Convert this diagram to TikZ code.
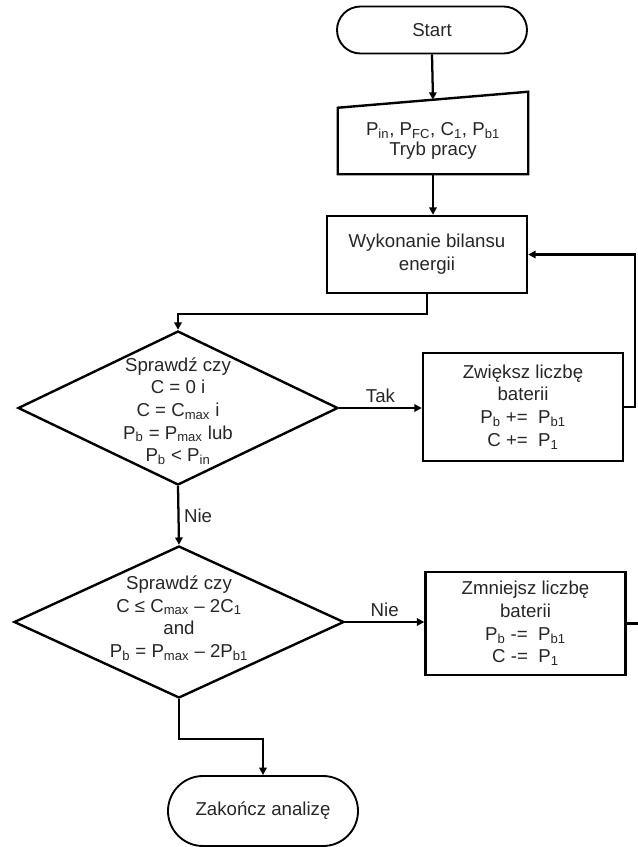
\documentclass[tikz,border=0pt]{standalone}
\usepackage{fontspec}
\setmainfont{Liberation Sans}
\usetikzlibrary{arrows.meta,positioning,calc,shapes.geometric,shapes.misc}

\newcommand{\sub}[1]{\textsubscript{#1}}

\begin{document}
\begin{tikzpicture}[x=0.75pt, y=-0.75pt,
    every node/.style={font=\fontsize{14}{17}\selectfont, text=black!85},
    term/.style={draw=black, line width=1.4pt, rounded rectangle, minimum width=142.5pt, inner sep=0pt},
    proc/.style={draw=black, line width=1.8pt, rectangle, minimum width=150pt, align=center, inner sep=0pt},
    decis/.style={draw=black, line width=1.8pt, diamond, inner sep=0pt},
    flow/.style={line width=1.7pt, -{Triangle[length=5.5pt,width=5.5pt]}},
    link/.style={line width=1.7pt}]
    \useasboundingbox (0,0) rectangle (638,847);

    % Start and data
    \node[term, minimum height=35.25pt] (start) at (432,30) {Start};
    \node[align=center, minimum width=142.5pt, minimum height=49.5pt, inner sep=0pt,
          font=\fontsize{14}{14.5}\selectfont] (inp) at (433,141)
        {P\sub{in}, P\sub{FC}, C\sub{1}, P\sub{b1}\\Tryb pracy};
    \coordinate (inpNE) at ($(inp.north east)+(0,-16)$);
    \coordinate (inpTop) at ($(inp.north west)!0.5!(inpNE)$);
    \draw[line width=1.8pt] (inp.south west) -- (inp.south east) -- (inpNE) -- (inp.north west) -- cycle;

    % Energy balance
    \node[proc, minimum height=57.75pt] (proc) at (427,254.5) {Wykonanie bilansu\\energii};

    % First check
    \node[decis, minimum width=240pt, minimum height=115.5pt] (d1) at (178,408) {};
    \node[align=center] (d1txt) at (178,411)
        {Sprawdź czy\\C = 0 i\\C = C\sub{max} i\\P\sub{b} = P\sub{max} lub\\P\sub{b} < P\sub{in}};
    \node[proc, minimum height=81pt] (box1) at (523,407)
        {Zwiększ liczbę\\baterii\\P\sub{b} +=\ \ P\sub{b1}\\C +=\ \ P\sub{1}};

    % Second check
    \node[decis, minimum width=247.5pt, minimum height=114pt] (d2) at (179,622) {};
    \node[align=center] (d2txt) at (179,618)
        {Sprawdź czy\\C ≤ C\sub{max} – 2C\sub{1}\\and\\P\sub{b} = P\sub{max} – 2P\sub{b1}};
    \node[proc, minimum height=77.25pt] (box2) at (525.5,623.5)
        {Zmniejsz liczbę\\baterii\\P\sub{b} -=\ \ P\sub{b1}\\C -=\ \ P\sub{1}};
    \coordinate (cut2) at (645,623.5);

    % End
    \node[term, minimum height=52.5pt] (fin) at (263,811) {Zakończ analizę};

    % Connectors
    \draw[flow] (start.south) -- (inpTop);
    \draw[flow] (inp.south) -- (inp.south |- proc.north);
    \draw[flow] (proc.south) -- ++(0,20) -| (d1.north);
    \draw[flow] (d1.east) -- (d1.east -| box1.west) node[midway, above] {Tak};
    \draw[flow] (box1.east) -- ++(11,0) |- (proc.east);
    \draw[flow] (d1.south) -- (d2.north) node[midway, right] {Nie};
    \draw[flow] (d2.east) -- (d2.east -| box2.west) node[midway, above] {Nie};
    \draw[link] (box2.east) -- (cut2);
    \draw[flow] (d2.south) -- ++(0,40) -| (fin.north);
\end{tikzpicture}
\end{document}
